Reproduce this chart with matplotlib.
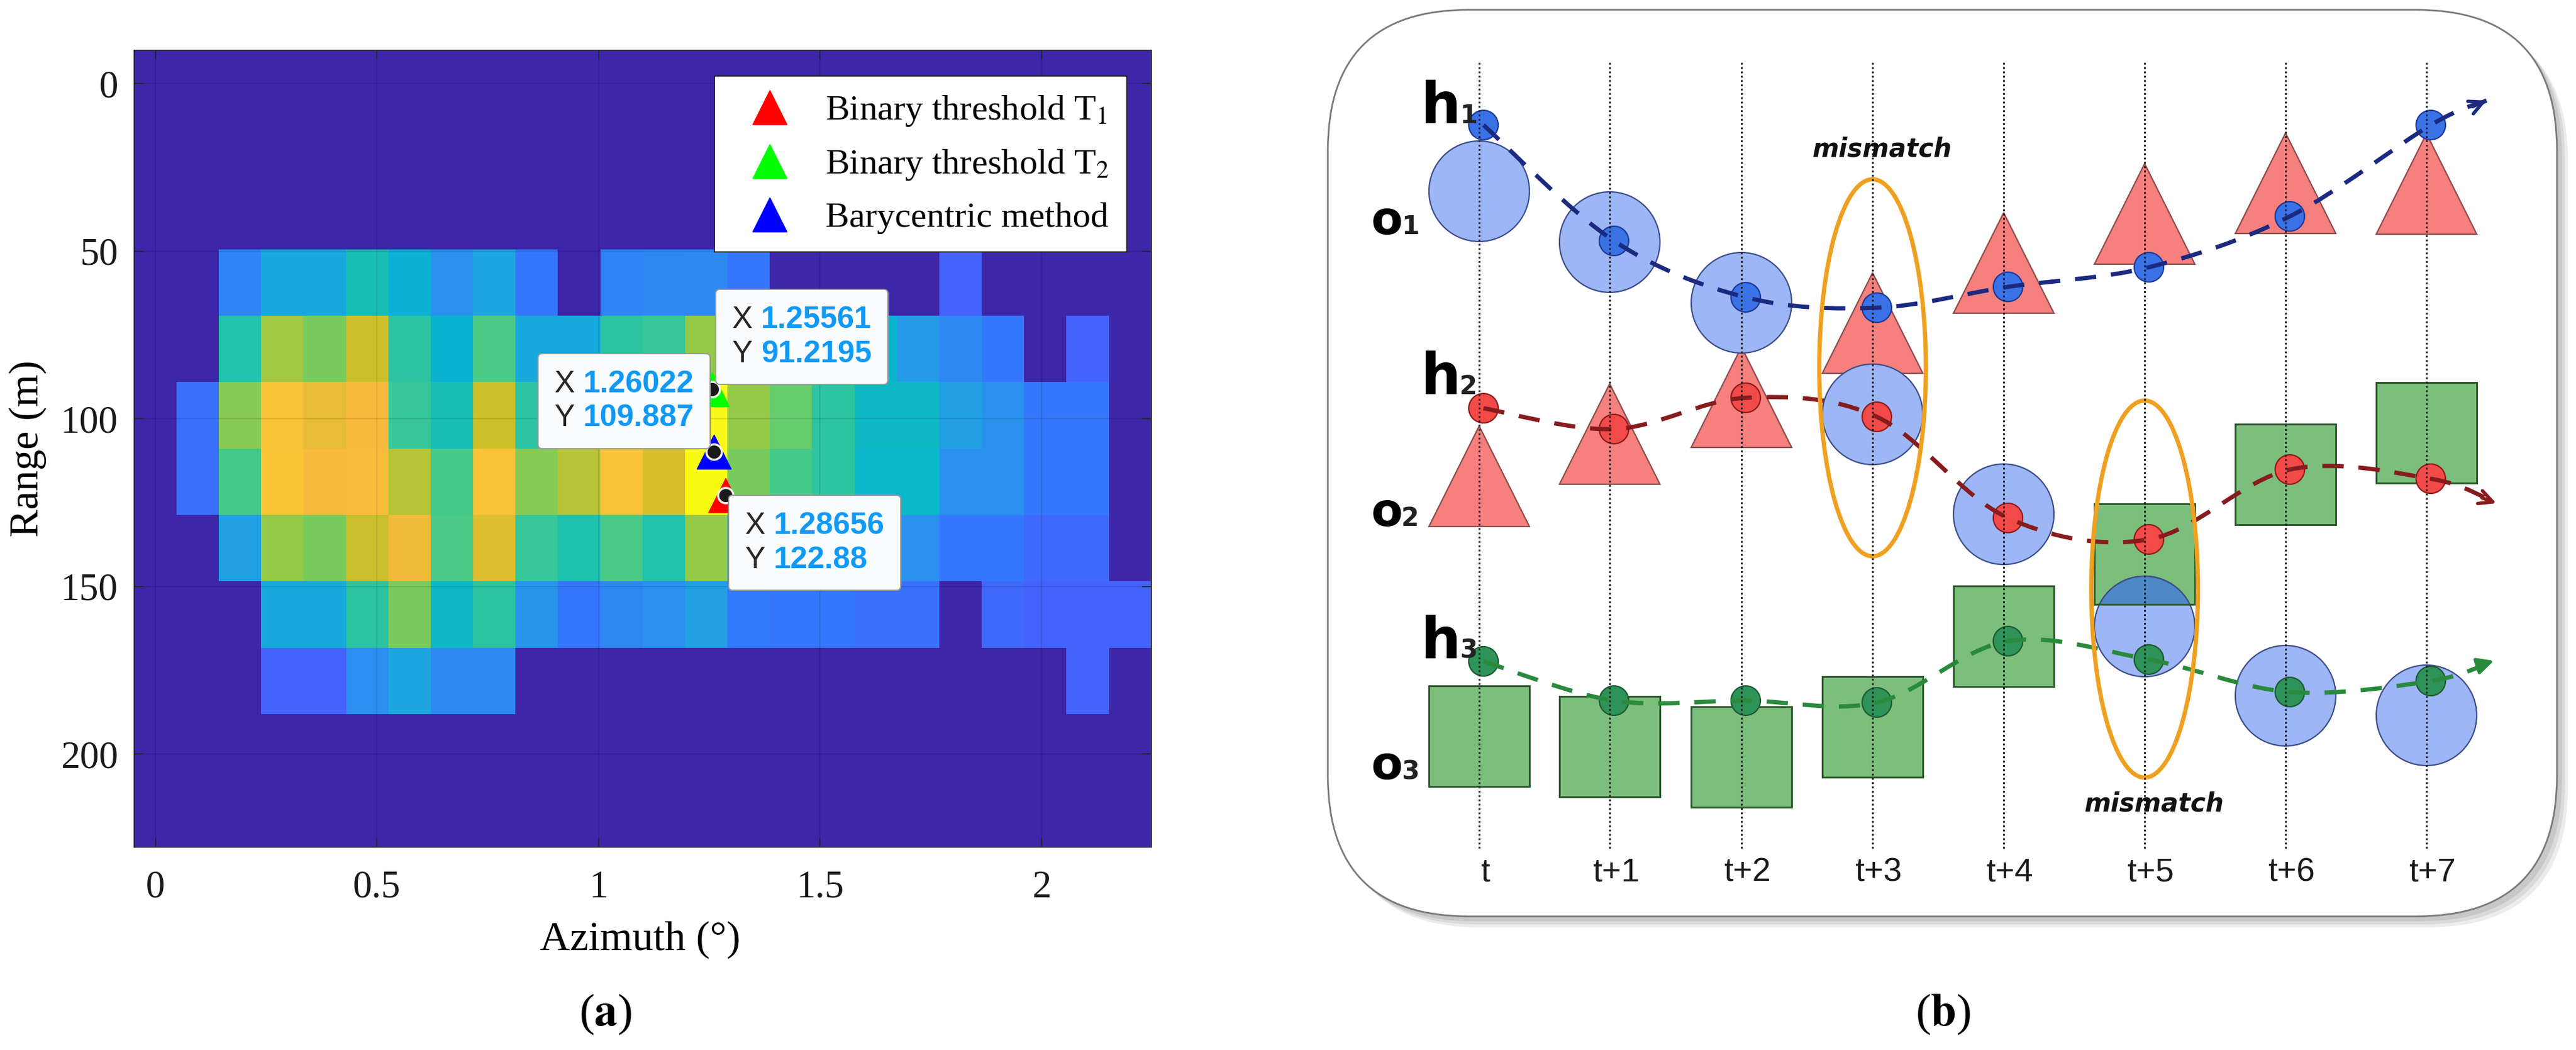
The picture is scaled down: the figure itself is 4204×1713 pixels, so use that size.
import numpy as np
import matplotlib
matplotlib.use('Agg')
import matplotlib.pyplot as plt
from matplotlib.colors import LinearSegmentedColormap
from matplotlib.offsetbox import AnnotationBbox, TextArea, HPacker, VPacker
from matplotlib.patches import Circle, Polygon, Rectangle, Ellipse, FancyBboxPatch, PathPatch
from matplotlib.path import Path

plt.rcParams['font.family'] = 'Liberation Serif'
plt.rcParams['mathtext.fontset'] = 'stix'

W, H = 4204, 1713

# ---------------- panel (a): range / azimuth map ----------------
azimuth = np.linspace(0, 2.2, 24)      # cell centres, deg
ranges = np.arange(12) * 19.8          # cell centres, m
power = np.array([
    [0] * 24,
    [0] * 24,
    [0] * 24,
    [0, 0, .28, .40, .40, .51, .43, .32, .39, .245, 0, .28, .29, .30, .245, 0, 0, 0, 0, .19, 0, 0, 0, 0],
    [0, 0, .53, .70, .66, .755, .55, .44, .60, .40, .40, .55, .57, .69, .62, .56, .50, .45, .35, .29, .245, 0, .19, 0],
    [0, .23, .675, .85, .80, .825, .57, .51, .755, .55, .60, .70, .77, .99, .69, .64, .55, .47, .47, .37, .32, .245, .245, 0],
    [0, .23, .59, .86, .825, .83, .73, .59, .85, .675, .73, .85, .77, 1.0, .66, .59, .55, .46, .46, .32, .32, .245, .245, 0],
    [0, 0, .37, .69, .66, .75, .81, .60, .785, .57, .52, .60, .53, .69, .40, .35, .32, .30, .32, .245, .245, .21, .21, 0],
    [0, 0, 0, .40, .40, .55, .66, .47, .55, .33, .245, .29, .32, .37, .25, .245, .245, .23, .23, 0, .21, .19, .19, .19],
    [0, 0, 0, .19, .19, .31, .39, .29, .29, 0, 0, 0, 0, 0, 0, 0, 0, 0, 0, 0, 0, 0, .19, 0],
    [0] * 24,
    [0] * 24,
])

method_labels = ['Binary threshold T$_1$', 'Binary threshold T$_2$', 'Barycentric method']
method_az = [1.28656, 1.25561, 1.26022]
method_rng = [122.88, 91.2195, 109.887]
method_colors = ['#ff0000', '#00ff00', '#0000ff']
# where each data tip box sits relative to its point
tip_align = [(0, 1), (0, 0), (1, 0)]
tip_offset = [(4, 0), (5, 6), (-4, 4)]

# old MATLAB parula, every 4th entry
parula_idx = [0, 4, 8, 12, 16, 20, 24, 28, 32, 36, 40, 44, 48, 52, 56, 60, 63]
parula_rgb = [(0.2422, 0.1504, 0.6603), (0.2706, 0.2147, 0.8364), (0.2813, 0.3006, 0.9414),
              (0.2699, 0.3892, 0.9906), (0.1963, 0.4847, 0.9892), (0.1687, 0.5703, 0.9359),
              (0.1248, 0.6459, 0.8883), (0.0297, 0.7082, 0.8163), (0.0964, 0.7500, 0.7120),
              (0.2161, 0.7843, 0.5923), (0.3909, 0.8029, 0.4354), (0.6174, 0.7876, 0.2612),
              (0.8203, 0.7498, 0.1535), (0.9728, 0.7298, 0.2394), (0.9892, 0.8136, 0.1885),
              (0.9597, 0.9135, 0.1423), (0.9769, 0.9839, 0.0805)]
parula = LinearSegmentedColormap.from_list('parula', [(i / 63, c) for i, c in zip(parula_idx, parula_rgb)])

# ---------------- panel (b): tracking diagram ----------------
step_labels = ['t', 't+1', 't+2', 't+3', 't+4', 't+5', 't+6', 't+7']
step_x = [2414, 2627, 2842, 3056, 3270, 3500, 3730, 3960]
o1_kind = ['circle', 'circle', 'circle', 'triangle', 'triangle', 'triangle', 'triangle', 'triangle']
o1_top = [230, 313, 412, 445, 347, 267, 217, 218]
o2_kind = ['triangle', 'triangle', 'triangle', 'circle', 'circle', 'square', 'square', 'square']
o2_top = [695, 626, 566, 594, 757, 822, 692, 624]
o3_kind = ['square', 'square', 'square', 'square', 'square', 'circle', 'circle', 'circle']
o3_top = [1119, 1136, 1153, 1104, 956, 940, 1053, 1085]
h1_y = [204, 393, 485, 502, 468, 436, 353, 204]
h2_y = [666, 700, 649, 680, 845, 880, 766, 781]
h3_y = [1079, 1143, 1143, 1146, 1046, 1076, 1129, 1111]
track_end = [(4058, 164), (4074, 821), (4070, 1078)]
mismatch_step = [3, 5]
mismatch_cy = [600, 961]
mismatch_text_y = [243, 1311]

fig = plt.figure(figsize=(W / 100, H / 100), dpi=100)

# ---- (a)
ax = fig.add_axes([219 / W, 1 - 1382 / H, 1660 / W, 1300 / H])
da = azimuth[1] - azimuth[0]
dr = ranges[1] - ranges[0]
ax.imshow(power, cmap=parula, vmin=0, vmax=1, aspect='auto', interpolation='nearest',
          origin='upper',
          extent=[azimuth[0] - da / 2, azimuth[-1] + da / 2, ranges[-1] + dr / 2, ranges[0] - dr / 2])
ax.set_xlim(azimuth[0] - da / 2, azimuth[-1] + da / 2)
ax.set_ylim(ranges[-1] + dr / 2, ranges[0] - dr / 2)
ax.set_xticks([0, 0.5, 1, 1.5, 2])
ax.set_xticklabels(['0', '0.5', '1', '1.5', '2'])
ax.set_yticks([0, 50, 100, 150, 200])
ax.grid(True, color='k', alpha=0.13, lw=1.2)
ax.set_axisbelow(False)
ax.tick_params(direction='in', length=11, width=1.3, top=True, right=True,
               labelsize=45, color='#262626', labelcolor='#1a1a1a')
ax.tick_params(axis='x', pad=27)
ax.tick_params(axis='y', pad=19)
for s in ax.spines.values():
    s.set_linewidth(1.3)
    s.set_color('#262626')
ax.set_xlabel('Azimuth (°)', fontsize=49)
ax.set_ylabel('Range (m)', fontsize=49)
ax.xaxis.set_label_coords(0.4976, -0.093)
ax.yaxis.set_label_coords(-0.0861, 0.5)

for lab, x, y, c in zip(method_labels, method_az, method_rng, method_colors):
    ax.plot(x, y, '^', ms=41, color=c, mec=c, ls='none', label=lab, zorder=5)
ax.plot(method_az, method_rng, 'o', ls='none', ms=18, color='#1a1a1a', mec='#f4f0e8', mew=2.5, zorder=6)

leg = ax.legend(loc='upper right', bbox_to_anchor=(1 - 40 / 1660, 1 - 42 / 1300), borderaxespad=0,
                fontsize=42, fancybox=False, edgecolor='#222222', framealpha=1, numpoints=1,
                handlelength=2.1, handletextpad=0.5, borderpad=0.5, labelspacing=0.55)
leg.get_frame().set_linewidth(1.3)

lab_props = dict(color='#262626', fontsize=36, family='Liberation Sans')
val_props = dict(color='#0f9af8', fontsize=36, family='Liberation Sans', fontweight='bold')
for x, y, al, off in zip(method_az, method_rng, tip_align, tip_offset):
    rx = HPacker(children=[TextArea('X', textprops=lab_props), TextArea(f'{x:g}', textprops=val_props)],
                 sep=10, pad=0, align='baseline')
    ry = HPacker(children=[TextArea('Y', textprops=lab_props), TextArea(f'{y:g}', textprops=val_props)],
                 sep=10, pad=0, align='baseline')
    box = VPacker(children=[rx, ry], sep=7, pad=19, align='left')
    ab = AnnotationBbox(box, (x, y), xybox=off, xycoords='data', boxcoords='offset points',
                        box_alignment=al, pad=0, frameon=True, zorder=10,
                        bboxprops=dict(boxstyle='round,pad=0,rounding_size=0.5', fc='#fafbfd',
                                       ec='#9a9a9a', lw=1.5))
    ax.add_artist(ab)

fig.text(988 / W, 1 - 1655 / H, r'($\mathbf{a}$)', fontsize=54, ha='center', va='center')

# ---- (b)
axb = fig.add_axes([2100 / W, 0, 1 - 2100 / W, 1])
axb.set_xlim(2100, W)
axb.set_ylim(H, 0)
axb.axis('off')

fx0, fy0, fx1, fy1 = 2167, 16, 4173, 1495
for k, a in zip([18, 13, 8], [0.18, 0.22, 0.28]):
    axb.add_patch(FancyBboxPatch((fx0 + k, fy0 + k), fx1 - fx0, fy1 - fy0,
                                 boxstyle='round,pad=0,rounding_size=230', fc='#9a9a9a', ec='none',
                                 alpha=a, zorder=0))
axb.add_patch(FancyBboxPatch((fx0, fy0), fx1 - fx0, fy1 - fy0, boxstyle='round,pad=0,rounding_size=230',
                             fc='white', ec='#7a7a7a', lw=2, zorder=1))

size = 164
circ_fc, circ_ec = '#9db6f5', '#3e4e88'
tri_fc, tri_ec = '#f5807e', '#8a4c4c'
sq_fc, sq_ec = '#7cbe7b', '#2e5a30'


def draw_obj(kind, cx, top, z):
    if kind == 'circle':
        p = Circle((cx, top + size / 2), size / 2, fc=circ_fc, ec=circ_ec, lw=1.6, zorder=z)
    elif kind == 'triangle':
        p = Polygon([(cx - size / 2, top + size), (cx + size / 2, top + size), (cx, top)],
                    closed=True, fc=tri_fc, ec=tri_ec, lw=1.6, zorder=z)
    else:
        p = Rectangle((cx - size / 2, top), size, size, fc=sq_fc, ec=sq_ec, lw=2, zorder=z)
    axb.add_patch(p)
    return p


rows = [(o1_kind, o1_top), (o2_kind, o2_top), (o3_kind, o3_top)]
for order, kind_now in enumerate(['triangle', 'square', 'circle']):
    for kinds, tops in rows:
        for i, (k, tp) in enumerate(zip(kinds, tops)):
            if k == kind_now:
                draw_obj(k, step_x[i], tp, 2 + order * 0.1)

# part of a circle lying inside a square of the same step
for i in range(len(step_x)):
    ks = [o1_kind[i], o2_kind[i], o3_kind[i]]
    ts = [o1_top[i], o2_top[i], o3_top[i]]
    if 'circle' in ks and 'square' in ks:
        tc = ts[ks.index('circle')]
        tsq = ts[ks.index('square')]
        sq = Rectangle((step_x[i] - size / 2, tsq), size, size, fc='none', ec=sq_ec, lw=2, zorder=3.1)
        axb.add_patch(sq)
        cap = Circle((step_x[i], tc + size / 2), size / 2, fc='#4e88c6', ec=circ_ec, lw=1.6, zorder=3)
        axb.add_patch(cap)
        cap.set_clip_path(sq)


def smooth_path(xs, ys):
    pts = np.column_stack([xs, ys]).astype(float)
    verts = [pts[0]]
    codes = [Path.MOVETO]
    n = len(pts)
    for i in range(n - 1):
        p0, p1, p2, p3 = pts[max(i - 1, 0)], pts[i], pts[i + 1], pts[min(i + 2, n - 1)]
        verts += [p1 + (p2 - p0) / 6, p2 - (p3 - p1) / 6, p2]
        codes += [Path.CURVE4] * 3
    return Path(verts, codes)


track_ys = [h1_y, h2_y, h3_y]
line_cols = ['#1b2a80', '#861c1e', '#2a8a3c']
dot_fc = ['#3a72e6', '#f24a48', '#2e9358']
dot_ec = ['#1d3a98', '#8c1c1c', '#1d5a33']
arrow_styles = ['->', '->', '-|>']
dot_x = [x + 7 for x in step_x]
for ys, end, lc, fc, ec, st in zip(track_ys, track_end, line_cols, dot_fc, dot_ec, arrow_styles):
    for x, y in zip(dot_x, ys):
        axb.add_patch(Circle((x, y), 24, fc=fc, ec=ec, lw=1.6, zorder=4))
    path = smooth_path(dot_x + [end[0]], ys + [end[1]])
    axb.add_patch(PathPatch(path, fill=False, ec=lc, lw=5, ls=(0, (5, 3.5)), capstyle='butt', zorder=5))
    dx, dy = end[0] - dot_x[-1], end[1] - ys[-1]
    d = np.hypot(dx, dy)
    axb.annotate('', xy=end, xytext=(end[0] - 25 * dx / d, end[1] - 25 * dy / d),
                 arrowprops=dict(arrowstyle=st, color=lc, lw=4, mutation_scale=40, shrinkA=0, shrinkB=0),
                 zorder=5)

for st, cy, ty in zip(mismatch_step, mismatch_cy, mismatch_text_y):
    axb.add_patch(Ellipse((step_x[st], cy), 174, 615, fill=False, ec='#efa020', lw=5, zorder=6))
    axb.text(step_x[st] + 16, ty, 'mismatch', fontsize=30, family='DejaVu Sans', fontweight='heavy',
             style='italic', ha='center', va='center', color='#111111', zorder=8)

axb.vlines(step_x, 102, 1388, colors='#222222', linestyles=(0, (1, 1.3)), lw=2.2, zorder=7)

for x, lab in zip(step_x, step_labels):
    axb.text(x + 10, 1423, lab, fontsize=39, family='Liberation Sans', ha='center', va='center',
             color='#1a1a1a', zorder=8)

track_label_y = [201, 643, 1074]
obs_label_y = [382, 858, 1271]
for j in range(3):
    axb.text(2318, track_label_y[j], 'h', fontsize=66, family='DejaVu Sans', fontweight='bold',
             ha='left', va='baseline', zorder=8)
    axb.text(2382, track_label_y[j], str(j + 1), fontsize=30, family='DejaVu Sans', fontweight='bold',
             ha='left', va='baseline', color='#222222', zorder=8)
    axb.text(2238, obs_label_y[j], 'o', fontsize=54, family='DejaVu Sans', fontweight='bold',
             ha='left', va='baseline', zorder=8)
    axb.text(2287, obs_label_y[j], str(j + 1), fontsize=30, family='DejaVu Sans', fontweight='bold',
             ha='left', va='baseline', color='#222222', zorder=8)

fig.text(3171 / W, 1 - 1655 / H, r'($\mathbf{b}$)', fontsize=54, ha='center', va='center')

fig.savefig('out.png', dpi=100)
